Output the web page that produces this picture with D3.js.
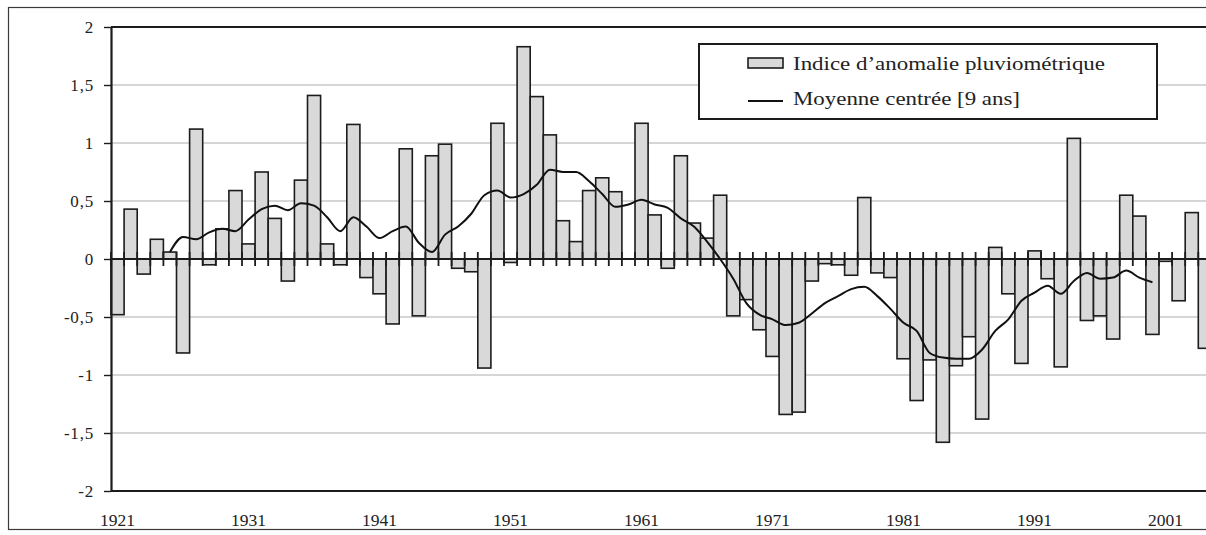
<!DOCTYPE html>
<html lang="fr">
<head>
<meta charset="utf-8">
<title>Indice d'anomalie pluviométrique</title>
<script src="https://d3js.org/d3.v7.min.js"></script>
<style>
  body { margin: 0; background: #fff; }
  text { font-family: "Liberation Serif", "DejaVu Serif", serif; fill: #222; }
</style>
</head>
<body>
<script>
var w = 1206, h = 535;

// annual index, 1921 -> 2004
var years = d3.range(1921, 2005);
var anomaly = [
  -0.48, 0.43, -0.13, 0.17, 0.06, -0.81, 1.12, -0.05, 0.26, 0.59,
  0.13, 0.75, 0.35, -0.19, 0.68, 1.41, 0.13, -0.05, 1.16, -0.16,
  -0.30, -0.56, 0.95, -0.49, 0.89, 0.99, -0.08, -0.11, -0.94, 1.17,
  -0.03, 1.83, 1.40, 1.07, 0.33, 0.15, 0.59, 0.70, 0.58, 0.00,
  1.17, 0.38, -0.08, 0.89, 0.31, 0.18, 0.55, -0.49, -0.35, -0.61,
  -0.84, -1.34, -1.32, -0.19, -0.04, -0.05, -0.14, 0.53, -0.12, -0.16,
  -0.86, -1.22, -0.87, -1.58, -0.92, -0.67, -1.38, 0.10, -0.30, -0.90,
  0.07, -0.17, -0.93, 1.04, -0.53, -0.49, -0.69, 0.55, 0.37, -0.65,
  -0.02, -0.36, 0.40, -0.77
];

// 9-year centred mean, 1925 -> 2000
var maYears = d3.range(1925, 2001);
var movingAvg = [
  0.06, 0.19, 0.17, 0.23, 0.26, 0.24, 0.34, 0.43, 0.46, 0.42,
  0.48, 0.46, 0.36, 0.24, 0.36, 0.28, 0.18, 0.24, 0.28, 0.14,
  0.06, 0.21, 0.28, 0.39, 0.55, 0.59, 0.53, 0.56, 0.64, 0.77,
  0.75, 0.75, 0.67, 0.56, 0.45, 0.47, 0.51, 0.47, 0.44, 0.35,
  0.28, 0.15, 0.00, -0.17, -0.38, -0.48, -0.52, -0.57, -0.55, -0.47,
  -0.38, -0.32, -0.26, -0.24, -0.32, -0.43, -0.55, -0.62, -0.81, -0.85,
  -0.86, -0.86, -0.78, -0.62, -0.52, -0.36, -0.29, -0.23, -0.30, -0.19,
  -0.12, -0.17, -0.16, -0.10, -0.16, -0.20
];

var yTicks = [-2, -1.5, -1, -0.5, 0, 0.5, 1, 1.5, 2];
var xLabels = [1921, 1931, 1941, 1951, 1961, 1971, 1981, 1991, 2001];
var legendLabels = ["Indice d\u2019anomalie pluviométrique", "Moyenne centrée [9 ans]"];

var plotLeft = 111, plotTop = 27, plotBottom = 491, step = 13.1;

var svg = d3.select("body")
            .append("svg")
            .attr("width", w)
            .attr("height", h);

svg.append("rect")
   .attr("width", w).attr("height", h)
   .attr("fill", "#fff");

// outer frame
svg.append("rect")
   .attr("x", 8.5).attr("y", 7.5)
   .attr("width", w).attr("height", 522)
   .attr("fill", "none")
   .attr("stroke", "#3a3a3a")
   .attr("stroke-width", 1.2);

var x = d3.scaleBand()
          .domain(years)
          .range([plotLeft, plotLeft + years.length * step])
          .padding(0);

var y = d3.scaleLinear()
          .domain([-2, 2])
          .range([plotBottom, plotTop]);

// grid
svg.selectAll("line.grid")
   .data(yTicks.filter(function(d) { return d !== 0 && Math.abs(d) !== 2; }))
   .enter()
   .append("line")
   .attr("class", "grid")
   .attr("x1", plotLeft).attr("x2", w)
   .attr("y1", function(d) { return y(d); })
   .attr("y2", function(d) { return y(d); })
   .attr("stroke", "#c9c9c9")
   .attr("stroke-width", 1.6);

// bars
svg.selectAll("rect.bar")
   .data(anomaly)
   .enter()
   .append("rect")
   .attr("class", "bar")
   .attr("x", function(d, i) { return x(years[i]); })
   .attr("width", x.bandwidth())
   .attr("y", function(d) { return y(Math.max(d, 0)); })
   .attr("height", function(d) { return Math.abs(y(d) - y(0)); })
   .attr("fill", "#d9d9d9")
   .attr("stroke", "#1c1c1c")
   .attr("stroke-width", 1.6);

// category axis at zero, cross ticks
var bounds = years.map(function(yr) { return x(yr); }).concat([x.range()[1]]);
svg.selectAll("line.xtick")
   .data(bounds)
   .enter()
   .append("line")
   .attr("class", "xtick")
   .attr("x1", function(d) { return d; })
   .attr("x2", function(d) { return d; })
   .attr("y1", y(0) - 7)
   .attr("y2", y(0) + 7)
   .attr("stroke", "#1c1c1c")
   .attr("stroke-width", 1.8);

svg.append("line")
   .attr("x1", plotLeft).attr("x2", w)
   .attr("y1", y(0)).attr("y2", y(0))
   .attr("stroke", "#1c1c1c")
   .attr("stroke-width", 2.2);

// moving average
var line = d3.line()
             .x(function(d, i) { return x(maYears[i]) + x.bandwidth() / 2; })
             .y(function(d) { return y(d); })
             .curve(d3.curveMonotoneX);

svg.append("path")
   .datum(movingAvg)
   .attr("d", line)
   .attr("fill", "none")
   .attr("stroke", "#111")
   .attr("stroke-width", 2);

// plot borders top / bottom
[2, -2].forEach(function(v) {
  svg.append("line")
     .attr("x1", plotLeft).attr("x2", w)
     .attr("y1", y(v)).attr("y2", y(v))
     .attr("stroke", "#1c1c1c")
     .attr("stroke-width", 2.2);
});

// y axis
var yAxis = d3.axisLeft(y)
              .tickValues(yTicks)
              .tickSize(7)
              .tickSizeOuter(0)
              .tickPadding(10)
              .tickFormat(function(d) { return String(d).replace(".", ","); });

var gy = svg.append("g")
            .attr("transform", "translate(" + plotLeft + ",0)")
            .call(yAxis)
            .attr("font-family", null)
            .attr("font-size", null);
gy.select(".domain").attr("stroke", "#1c1c1c").attr("stroke-width", 2.2);
gy.selectAll(".tick line").attr("stroke", "#1c1c1c").attr("stroke-width", 1.4);
gy.selectAll(".tick text")
  .attr("font-size", 17)
  .attr("letter-spacing", 0.8)
  .attr("fill", "#222");

// year labels
svg.selectAll("text.xlab")
   .data(xLabels)
   .enter()
   .append("text")
   .attr("class", "xlab")
   .attr("x", function(d) { return x(d) + x.bandwidth() / 2; })
   .attr("y", 526)
   .attr("text-anchor", "middle")
   .attr("font-size", 17.5)
   .text(function(d) { return d; });

// legend
var lg = svg.append("g");
lg.append("rect")
  .attr("x", 699).attr("y", 44)
  .attr("width", 458).attr("height", 75)
  .attr("fill", "#fff")
  .attr("stroke", "#1c1c1c")
  .attr("stroke-width", 2);

lg.append("rect")
  .attr("x", 748).attr("y", 58)
  .attr("width", 35).attr("height", 10)
  .attr("fill", "#d9d9d9")
  .attr("stroke", "#1c1c1c")
  .attr("stroke-width", 1.6);

lg.append("line")
  .attr("x1", 748).attr("x2", 783)
  .attr("y1", 101).attr("y2", 101)
  .attr("stroke", "#111")
  .attr("stroke-width", 2);

var lgWidths = [312, 227];
lg.selectAll("text")
  .data(legendLabels)
  .enter()
  .append("text")
  .attr("x", 793)
  .attr("y", function(d, i) { return 70 + i * 35; })
  .attr("font-size", 19)
  .attr("textLength", function(d, i) { return lgWidths[i]; })
  .attr("lengthAdjust", "spacingAndGlyphs")
  .text(function(d) { return d; });
</script>
</body>
</html>
